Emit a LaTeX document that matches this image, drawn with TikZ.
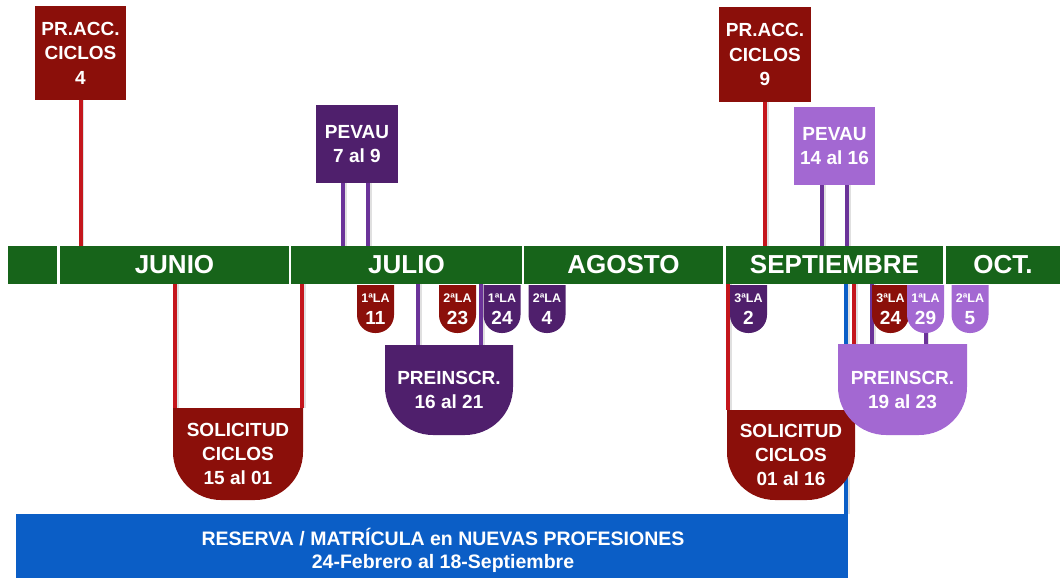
\documentclass[tikz,border=0pt]{standalone}
\usepackage{fontspec}
\setmainfont{Liberation Sans}
\usetikzlibrary{backgrounds}

\definecolor{accred}{HTML}{8B0F0A}
\definecolor{linered}{HTML}{C4161C}
\definecolor{darkpur}{HTML}{4F1F6C}
\definecolor{linepur}{HTML}{6B3399}
\definecolor{lightpur}{HTML}{A368D2}
\definecolor{monthgreen}{HTML}{17641A}
\definecolor{resblue}{HTML}{0B5EC6}

\tikzset{
  month/.style={fill=monthgreen, text=white, inner sep=0pt, minimum height=38pt,
    font=\bfseries\fontsize{26}{26}\selectfont},
  flatbox/.style={fill=#1, text=white, inner sep=0pt, align=center,
    font=\bfseries\fontsize{19}{24.5}\selectfont},
  shield/.style 2 args={text=white, inner sep=0pt, align=center,
    path picture={\fill[#1, rounded corners=#2]
      ([yshift=#2]path picture bounding box.north west) rectangle
      (path picture bounding box.south east);}},
  bigshield/.style={shield={#1}{48pt}, font=\bfseries\fontsize{19}{24}\selectfont},
  badge/.style={shield={#1}{18pt}, minimum width=37pt, minimum height=48pt,
    font=\bfseries\fontsize{19}{22}\selectfont},
  link/.style={line width=4pt, draw=#1,
    preaction={draw=black!12, line width=2.5pt, transform canvas={xshift=2.5pt}}},
}
\newcommand{\lanum}[1]{{\fontsize{12.5}{12.5}\selectfont #1}}

\begin{document}
\begin{tikzpicture}[x=1pt, y=-1pt]
\useasboundingbox (0,0) rectangle (1060,578);

% months
\node[month, minimum width=49pt] (may) at (32.5,265) {};
\node[month, minimum width=229pt] (jun) at (174.5,265) {JUNIO};
\node[month, minimum width=231pt] (jul) at (406.5,265) {JULIO};
\node[month, minimum width=199pt] (ago) at (623.5,265) {AGOSTO};
\node[month, minimum width=217pt] (sep) at (834.5,265) {SEPTIEMBRE};
\node[month, minimum width=114pt] (oct) at (1003,265) {OCT.};

% above the bar
\node[flatbox=accred, minimum width=91pt, minimum height=94pt] (acc1) at (80.5,53) {PR.ACC.\\CICLOS\\4};
\node[flatbox=accred, minimum width=92pt, minimum height=95pt] (acc2) at (765,54.5) {PR.ACC.\\CICLOS\\9};
\node[flatbox=darkpur, minimum width=82pt, minimum height=78pt] (pev1) at (357,144) {PEVAU\\7 al 9};
\node[flatbox=lightpur, minimum width=81pt, minimum height=78pt] (pev2) at (834.5,146) {PEVAU\\14 al 16};

% below the bar
\node[fill=resblue, inner sep=0pt, minimum width=832pt, minimum height=64pt] (res) at (432,546) {};
\node[text=white, align=center, font=\bfseries\fontsize{19.5}{23}\selectfont] (restxt) at (443,550)
  {RESERVA / MATRÍCULA en NUEVAS PROFESIONES\\24-Febrero al 18-Septiembre};

\node[bigshield=accred, minimum width=130pt, minimum height=92pt] (sol1) at (238,454) {SOLICITUD\\CICLOS\\15 al 01};
\node[bigshield=accred, minimum width=128pt, minimum height=90pt] (sol2) at (791,455) {SOLICITUD\\CICLOS\\01 al 16};
\node[bigshield=darkpur, minimum width=128pt, minimum height=90pt] (pre1) at (449,390) {PREINSCR.\\16 al 21};
\node[bigshield=lightpur, minimum width=129pt, minimum height=91pt] (pre2) at (902.5,389.5) {PREINSCR.\\19 al 23};

\node[badge=accred] (la11) at (375.5,309) {\lanum{1ªLA}\\11};
\node[badge=accred] (la23) at (457.5,309) {\lanum{2ªLA}\\23};
\node[badge=darkpur] (la24) at (502,309) {\lanum{1ªLA}\\24};
\node[badge=darkpur] (la4) at (547,309) {\lanum{2ªLA}\\4};
\node[badge=darkpur] (la2) at (748.5,309) {\lanum{3ªLA}\\2};
\node[badge=accred] (la24b) at (890.5,309) {\lanum{3ªLA}\\24};
\node[badge=lightpur] (la29) at (925.5,309) {\lanum{1ªLA}\\29};
\node[badge=lightpur] (la5) at (970,309) {\lanum{2ªLA}\\5};

% connectors
\begin{scope}[on background layer]
  \draw[link=linered] (acc1.south) -- (acc1.south |- jun.north);
  \draw[link=linered] (acc2.south) -- (acc2.south |- sep.north);
  \draw[link=linepur] ([xshift=-14pt]pev1.south) -- ([xshift=-14pt]pev1.south |- jul.north);
  \draw[link=linepur] ([xshift=11pt]pev1.south) -- ([xshift=11pt]pev1.south |- jul.north);
  \draw[link=linepur] ([xshift=-12.5pt]pev2.south) -- ([xshift=-12.5pt]pev2.south |- sep.north);
  \draw[link=linepur] ([xshift=12.5pt]pev2.south) -- ([xshift=12.5pt]pev2.south |- sep.north);
  \draw[link=linered] ([xshift=-63pt]sol1.north) -- ([xshift=-63pt]sol1.north |- jun.south);
  \draw[link=linered] ([xshift=64pt]sol1.north) -- ([xshift=64pt]sol1.north |- jul.south);
  \draw[link=linepur] ([xshift=-31pt]pre1.north) -- ([xshift=-31pt]pre1.north |- jul.south);
  \draw[link=linepur] ([xshift=32pt]pre1.north) -- ([xshift=32pt]pre1.north |- jul.south);
  \draw[link=resblue] ([xshift=-2pt]res.north east) -- ([xshift=-2pt]res.north east |- sep.south);
  \draw[link=linered] ([xshift=-63pt]sol2.north) -- ([xshift=-63pt]sol2.north |- sep.south);
  \draw[link=linered] ([xshift=63pt]sol2.north) -- ([xshift=63pt]sol2.north |- sep.south);
  \draw[link=linepur] ([xshift=-30.5pt]pre2.north) -- ([xshift=-30.5pt]pre2.north |- sep.south);
  \draw[link=linepur] (la29.south) -- (la29.south |- pre2.north);
\end{scope}
\end{tikzpicture}
\end{document}
